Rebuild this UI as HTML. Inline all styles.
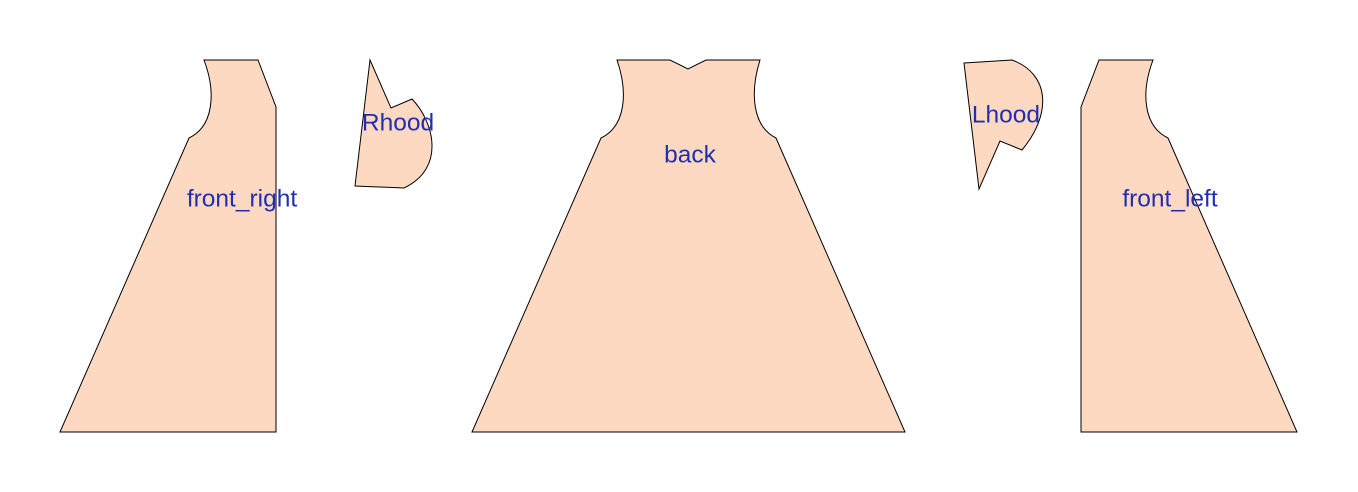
<!DOCTYPE html>
<html><head><meta charset="utf-8"><style>
html,body{margin:0;padding:0;background:#fff;width:1358px;height:492px;overflow:hidden}
text{font-family:"Liberation Sans",sans-serif;font-size:24.5px;fill:#1f2fb0;text-anchor:middle;dominant-baseline:middle}
path{fill:#fed9c1;stroke:#000;stroke-width:1}
</style></head><body>
<svg width="1358" height="492">
<path d="M204,60 L258,60 L276,107 L276,432 L60,432 L189,138 C214,126 216,92 204,60 Z"/>
<path d="M370,60 L391,108 L412,99 C434,122 446,168 404,188 L355,186 Z"/>
<path d="M617,60 L670,60 L688,69 L706,60 L760,60 C750,92 752,126 776,138 L905,432 L472,432 L601,138 C626,126 628,92 617,60 Z"/>
<path d="M964,63 L1012,60 C1050,74 1052,114 1022,150 L1000,141 L979,189 Z"/>
<path d="M1153,60 L1099,60 L1081,107 L1081,432 L1297,432 L1168,138 C1143,126 1141,92 1153,60 Z"/>
<text x="242" y="200">front_right</text>
<text x="398" y="124">Rhood</text>
<text x="690" y="156">back</text>
<text x="1006" y="116">Lhood</text>
<text x="1170" y="200">front_left</text>
</svg>
</body></html>
